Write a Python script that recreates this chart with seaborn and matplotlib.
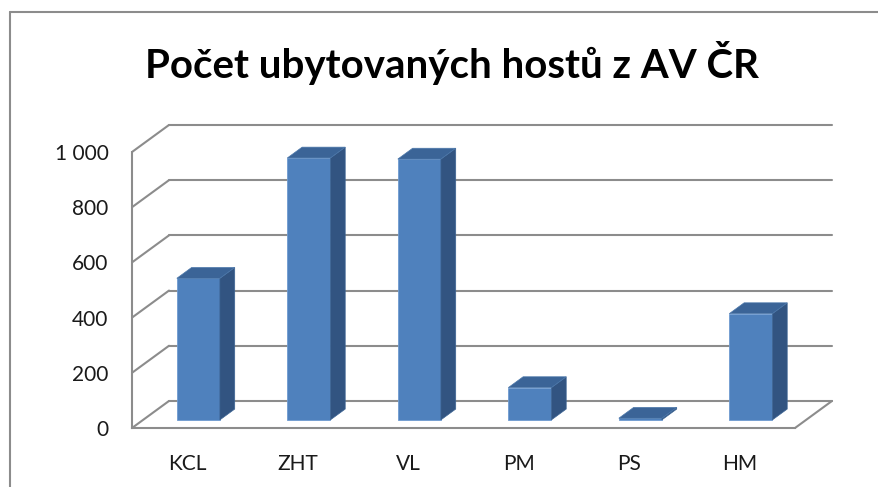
import matplotlib
matplotlib.use("Agg")
import matplotlib.pyplot as plt
import seaborn as sns
from matplotlib.patches import Polygon
from matplotlib.lines import Line2D

# data
kategorie = ["KCL", "ZHT", "VL", "PM", "PS", "HM"]
hoste = [513, 949, 945, 117, 6, 385]
y_ticks = [0, 200, 400, 600, 800, 1000]
y_labels = ["0", "200", "400", "600", "800", "1 000"]

sns.set_style("white")
plt.rcParams["font.family"] = ["Lato", "DejaVu Sans"]

# 3D posun (hloubka) v datovych jednotkach
DX = 0.335
DY = 98
Z0, Z1 = 0.3, 0.7
SEDA = "#8c8c8c"

fig = plt.figure(figsize=(8.79, 4.87), dpi=100)
ax = fig.add_axes([132 / 879, 42 / 487, 718 / 879, 345 / 487])

sns.barplot(x=kategorie, y=hoste, width=0.39, color="#4F81BD", saturation=1,
            ax=ax, zorder=3, edgecolor="#6f9bd0", linewidth=0.6)

n = len(kategorie)
x_l, x_r = -0.5, n - 0.5

# zadni stena a bocni diagonaly
for v in y_ticks:
    ax.plot([x_l, x_l + DX], [v, v + DY], color=SEDA, lw=1.5, zorder=1)
    ax.plot([x_l + DX, x_r + DX], [v + DY, v + DY], color=SEDA, lw=1.5, zorder=1)
# podlaha vpravo
ax.plot([x_r, x_r + DX], [0, DY], color=SEDA, lw=1.5, zorder=1)

# 3D sloupce: boky a vrsky
for p in ax.patches[:n]:
    x0, w, h = p.get_x(), p.get_width(), p.get_height()
    fx = x0 + Z0 * DX
    fy = Z0 * DY
    p.set_x(fx)
    p.set_y(fy)
    d = (Z1 - Z0)
    side = [(fx + w, fy), (fx + w, fy + h), (fx + w + d * DX, fy + h + d * DY),
            (fx + w + d * DX, fy + d * DY)]
    top = [(fx, fy + h), (fx + w, fy + h), (fx + w + d * DX, fy + h + d * DY),
           (fx + d * DX, fy + h + d * DY)]
    ax.add_patch(Polygon(side, closed=True, facecolor="#325481", edgecolor="#3d6594",
                         lw=0.5, zorder=3))
    ax.add_patch(Polygon(top, closed=True, facecolor="#3b6497", edgecolor="#4b77aa",
                         lw=0.5, zorder=3))

ax.set_xlim(-0.5, -0.5 + 718 / 110.5)
ax.set_ylim(-17 / 0.276, 328 / 0.276)

for s in ["top", "right"]:
    ax.spines[s].set_visible(False)
ax.spines["left"].set_bounds(0, 1000)
ax.spines["bottom"].set_position(("data", 0))
ax.spines["bottom"].set_bounds(x_l, x_r)
for s in ["left", "bottom"]:
    ax.spines[s].set_color(SEDA)
    ax.spines[s].set_linewidth(1.5)

ax.set_yticks(y_ticks)
ax.set_yticklabels(y_labels)
ax.set_xticks(range(n))
ax.set_xticklabels(kategorie)
ax.set_xticks([i - 0.5 for i in range(n + 1)], minor=True)
ax.tick_params(axis="y", length=5, width=1.5, color=SEDA, pad=12, labelsize=15,
               labelcolor="#1a1a1a")
ax.tick_params(axis="x", which="major", length=0, pad=19, labelsize=15,
               labelcolor="#1a1a1a")
ax.tick_params(axis="x", which="minor", length=5, width=1.5, color=SEDA)
ax.set_xlabel("")
ax.set_ylabel("")

fig.text(452 / 879, 1 - 78 / 487, "Počet ubytovaných hostů z AV ČR", ha="center",
         va="baseline", fontsize=29, fontweight="bold", color="black")

# ramecek grafu
fig.add_artist(Line2D([9.5 / 879, 9.5 / 879], [0, 1 - 12 / 487], color=SEDA, lw=1.5))
fig.add_artist(Line2D([9.5 / 879, 1], [1 - 12 / 487, 1 - 12 / 487], color=SEDA, lw=1.5))

fig.savefig("out.png", dpi=100)
